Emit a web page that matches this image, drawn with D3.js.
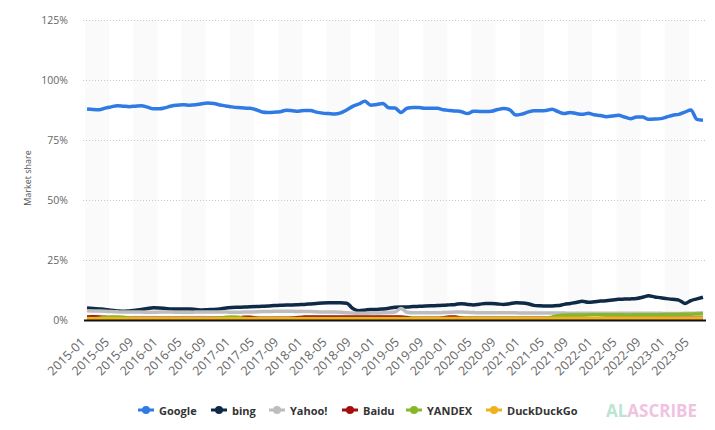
<!DOCTYPE html>
<html>
<head>
<meta charset="utf-8">
<script src="https://cdn.jsdelivr.net/npm/d3@7"></script>
<style>
body{margin:0;background:#fff;}
svg{font-family:'Open Sans',sans-serif;}
</style>
</head>
<body>
<div id="chart"></div>
<script>
// monthly categories 2015-01 .. 2023-07
let months = [];
for(let yr = 2015; yr <= 2023; yr++){
	for(let m = 1; m <= 12; m++){
		if(yr == 2023 && m > 7) break;
		months.push(yr + '-' + (m < 10 ? '0' + m : m));
	}
}

let seriesNames = ['Google', 'bing', 'Yahoo!', 'Baidu', 'YANDEX', 'DuckDuckGo'];
let seriesColors = ['#2f7ae5', '#0f2a47', '#bdbdbd', '#a30f0f', '#86b728', '#efb11c'];

let google = [87.9,87.7,87.6,88.3,88.8,89.3,89.1,88.9,89.1,89.3,88.7,88.0,88.0,88.5,89.2,89.5,89.7,89.5,89.7,90.1,
90.4,90.2,89.6,89.2,88.8,88.5,88.3,88.2,87.6,86.7,86.5,86.6,86.8,87.4,87.2,87.0,87.3,87.3,86.6,86.2,
86.0,85.8,86.3,87.5,89.0,90.0,91.1,89.5,89.8,90.2,88.4,88.3,86.5,88.2,88.5,88.5,88.2,88.2,88.2,87.6,
87.3,87.1,86.8,86.0,87.0,86.9,86.9,87.0,87.7,88.1,87.6,85.4,85.8,86.6,87.2,87.2,87.3,87.8,86.8,86.0,
86.5,86.0,85.7,86.1,85.5,85.2,84.7,85.0,85.3,84.6,83.9,84.6,84.6,83.6,83.7,83.9,84.6,85.3,85.7,86.6,
87.5,83.6,83.2];

let bing = [5.0,4.8,4.6,4.4,4.1,3.8,3.6,3.8,4.1,4.4,4.8,5.1,5.0,4.8,4.6,4.6,4.6,4.6,4.4,4.2,
4.3,4.4,4.6,5.0,5.2,5.3,5.4,5.5,5.6,5.7,5.8,6.0,6.1,6.3,6.3,6.4,6.5,6.7,6.9,7.1,
7.2,7.2,7.2,7.0,4.8,3.9,4.1,4.4,4.4,4.6,4.9,5.3,5.4,5.4,5.6,5.7,5.8,5.9,6.0,6.1,
6.3,6.5,6.8,6.5,6.3,6.6,6.9,6.9,6.7,6.5,6.8,7.2,7.1,6.8,6.1,5.9,5.8,5.8,6.0,6.5,
6.9,7.3,7.8,7.4,7.6,7.9,8.0,8.3,8.6,8.7,8.8,9.0,9.5,10.1,9.6,9.3,8.9,8.6,8.3,6.9,
8.1,8.8,9.5];

let yahoo = [3.9,3.8,3.7,3.6,3.5,3.4,3.3,3.3,3.3,3.3,3.2,3.2,3.3,3.3,3.3,3.2,3.2,3.2,3.3,3.3,
3.3,3.3,3.3,3.3,3.2,3.2,3.3,3.3,3.4,3.5,3.5,3.6,3.6,3.6,3.6,3.5,3.5,3.5,3.4,3.3,
3.3,3.3,3.2,3.0,2.9,2.8,2.8,2.9,2.9,3.0,3.1,3.3,4.8,3.2,3.0,3.0,3.0,3.0,3.0,3.1,
3.2,3.3,3.3,3.2,3.1,3.0,3.0,3.0,3.0,3.0,3.0,3.0,2.9,2.9,2.9,2.9,2.9,2.9,2.9,2.9,
2.8,2.8,2.8,2.8,2.8,2.8,2.8,2.8,2.8,2.8,2.8,2.8,2.8,2.8,2.8,2.8,2.7,2.7,2.7,2.8,
2.8,2.9,3.0];

let baidu = [1.3,1.4,1.3,1.1,0.8,0.7,0.7,0.7,0.7,0.7,0.7,0.7,0.7,0.7,0.7,0.7,0.7,0.7,0.7,0.7,
0.7,0.7,0.7,0.7,0.7,0.8,1.1,1.1,0.8,0.7,0.7,0.7,0.7,0.7,0.8,1.0,1.2,1.3,1.3,1.3,
1.3,1.3,1.3,1.2,1.2,1.2,1.2,1.3,1.3,1.2,1.2,1.2,1.2,1.0,0.7,0.7,0.7,0.7,0.7,0.9,
1.2,1.2,0.8,0.7,0.7,0.7,0.7,0.7,0.7,0.7,0.7,0.7,0.7,0.7,0.7,0.7,0.7,0.7,0.7,0.7,
0.7,0.7,0.7,0.5,0.5,0.6,0.7,0.7,0.7,0.7,0.7,0.7,0.7,0.7,0.7,0.7,0.7,0.7,0.7,0.7,
0.7,0.7,0.7];

let yandex = [0.6,0.6,0.7,1.1,1.3,1.3,1.2,0.7,0.6,0.6,0.6,0.6,0.6,0.6,0.6,0.6,0.6,0.6,0.6,0.6,
0.6,0.6,0.8,1.2,1.3,1.2,0.7,0.6,0.6,0.6,0.6,0.6,0.6,0.6,0.6,0.6,0.6,0.6,0.6,0.6,
0.6,0.6,0.6,0.6,0.6,0.6,0.6,0.6,0.6,0.6,0.6,0.6,0.6,0.6,0.6,0.6,0.6,0.6,0.6,0.6,
0.6,0.6,0.6,0.6,0.6,0.6,0.6,0.6,0.6,0.6,0.6,0.6,0.6,0.6,0.6,0.6,0.7,1.2,1.8,2.0,
2.1,2.1,2.1,2.1,2.2,2.2,2.2,2.2,2.2,2.1,2.1,2.2,2.2,2.2,2.2,2.2,2.3,2.3,2.3,2.4,
2.4,2.5,2.6];

let duckduckgo = [0.5,0.5,0.5,0.5,0.5,0.5,0.5,0.5,0.5,0.5,0.5,0.5,0.5,0.5,0.5,0.5,0.5,0.5,0.5,0.5,
0.5,0.5,0.5,0.5,0.5,0.5,0.5,0.5,0.5,0.5,0.5,0.5,0.5,0.5,0.5,0.5,0.5,0.5,0.5,0.5,
0.5,0.5,0.5,0.5,0.5,0.5,0.5,0.5,0.5,0.5,0.5,0.5,0.5,0.5,0.6,0.6,0.6,0.6,0.6,0.6,
0.6,0.6,0.6,0.6,0.6,0.6,0.6,0.6,0.6,0.6,0.6,0.6,0.6,0.6,0.6,0.6,0.6,0.6,0.6,0.6,
0.6,0.6,0.6,0.6,0.6,0.6,0.6,0.6,0.6,0.6,0.6,0.6,0.6,0.6,0.6,0.6,0.6,0.6,0.6,0.6,
0.6,0.6,0.6];

let yTicks = [0, 25, 50, 75, 100, 125];

let series = [google, bing, yahoo, baidu, yandex, duckduckgo];

let svgW = 715, svgH = 430,
plotL = 84, plotR = 706, plotT = 20, plotB = 320;

let svg = d3.select('#chart').append('svg').attr('width', svgW).attr('height', svgH);

let x = d3.scaleBand().domain(months).range([plotL, plotR]).padding(0);
let bw = x.bandwidth();
let y = d3.scaleLinear().domain([0, 125]).range([plotB, plotT]);

//alternate bands, 4 months each
for(let i = 0; i < months.length; i += 8){
	let w = Math.min(4, months.length - i) * bw;
	svg.append('rect')
	.attr('x', x(months[i]) + 1)
	.attr('y', plotT)
	.attr('width', w)
	.attr('height', plotB - plotT)
	.style('fill', '#fafafa');
}

//grid lines
svg.append('g').selectAll('line').data(yTicks.filter(d=>d>0)).enter().append('line')
.attr('x1', plotL - 1)
.attr('x2', plotR)
.attr('y1', d=>y(d) + 0.5)
.attr('y2', d=>y(d) + 0.5)
.style('stroke', '#c8c8c8')
.style('stroke-width', 1)
.style('stroke-dasharray', '1,2');

//y labels
svg.append('g').selectAll('text').data(yTicks).enter().append('text')
.attr('x', 68)
.attr('y', d=>y(d))
.attr('text-anchor', 'end')
.attr('dominant-baseline', 'central')
.style('font-size', '10.5px')
.style('fill', '#666')
.text(d=>d + '%');

svg.append('text')
.attr('transform', 'translate(31,178) rotate(-90)')
.attr('text-anchor', 'middle')
.style('font-size', '9px')
.style('fill', '#555')
.text('Market share');

//series lines
let line = d3.line()
.x((d, i)=>x(months[i]) + bw / 2)
.y(d=>y(d))
.curve(d3.curveMonotoneX);

series.forEach((s, k)=>{
	svg.append('path')
	.datum(s)
	.attr('d', line)
	.style('fill', 'none')
	.style('stroke', seriesColors[k])
	.style('stroke-width', 3.5)
	.style('stroke-linejoin', 'round');
});

//x axis line
svg.append('line')
.attr('x1', plotL)
.attr('x2', plotR)
.attr('y1', plotB + 0.5)
.attr('y2', plotB + 0.5)
.style('stroke', '#111')
.style('stroke-width', 2);

//x labels every 4 months
let tickMonths = months.filter((d, i)=>i % 4 == 0);
svg.append('g').selectAll('text').data(tickMonths).enter().append('text')
.attr('transform', d=>'translate(' + (x(d) + bw / 2 - 1) + ',' + 343 + ') rotate(-45)')
.attr('text-anchor', 'end')
.style('font-size', '12.5px')
.style('fill', '#666')
.text(d=>d);

//legend
let legendX = [138, 211, 269, 342, 406, 486];
let legend = svg.append('g').selectAll('g').data(seriesNames).enter().append('g')
.attr('transform', (d, i)=>'translate(' + legendX[i] + ',410)');

legend.append('line')
.attr('x1', 0).attr('x2', 16)
.attr('y1', 0).attr('y2', 0)
.style('stroke', (d, i)=>seriesColors[i])
.style('stroke-width', 3);

legend.append('circle')
.attr('cx', 8).attr('cy', 0).attr('r', 4)
.style('fill', (d, i)=>seriesColors[i]);

legend.append('text')
.attr('x', 21)
.attr('y', 0)
.attr('dominant-baseline', 'central')
.style('font-size', '11px')
.style('font-weight', 'bold')
.style('fill', '#333')
.text(d=>d);

//watermark
let wm = svg.append('text')
.attr('x', 606)
.attr('y', 417)
.style('font-size', '17px')
.style('font-weight', 'bold')
.style('opacity', 0.6);
wm.append('tspan').style('fill', '#8fd3b6').text('AL');
wm.append('tspan').style('fill', '#e79bd0').text('ASCRIBE');
</script>
</body>
</html>
